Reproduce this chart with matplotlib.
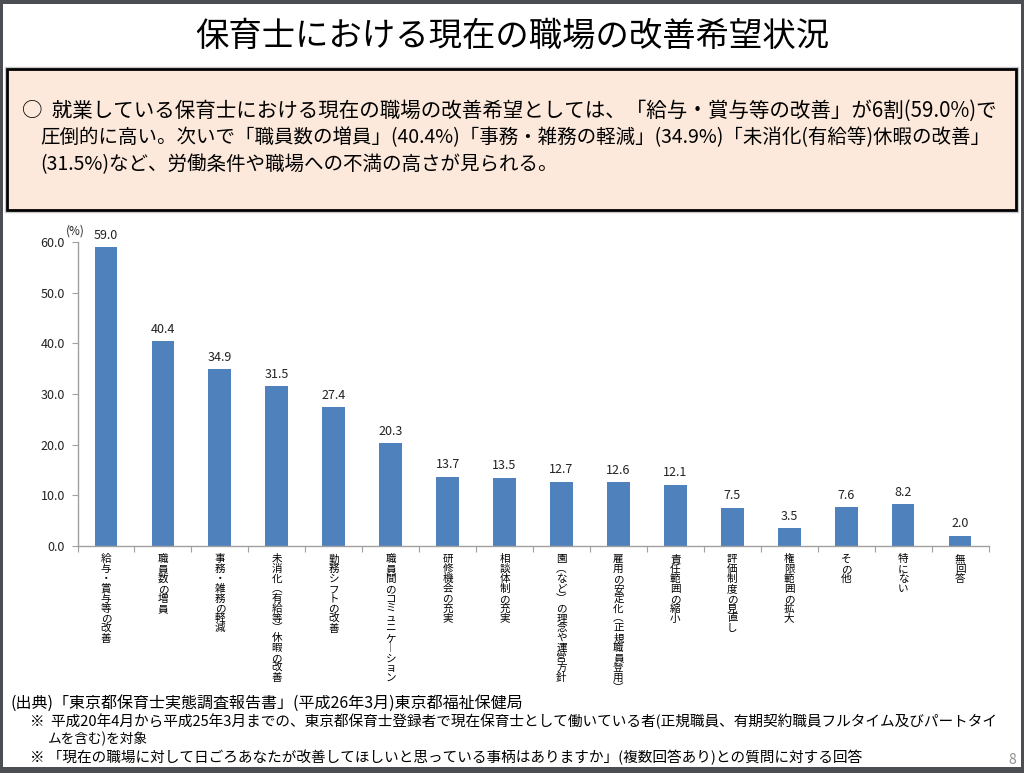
import matplotlib
matplotlib.use("Agg")
import matplotlib.pyplot as plt
from matplotlib.patches import Rectangle

plt.rcParams['font.family'] = ['Noto Sans CJK JP', 'DejaVu Sans']

categories = ["給与・賞与等の改善", "職員数の増員", "事務・雑務の軽減", "未消化（有給等）休暇の改善",
              "勤務シフトの改善", "職員間のコミュニケーション", "研修機会の充実", "相談体制の充実",
              "園（など）の理念や運営方針", "雇用の安定化（正規職員登用）", "責任範囲の縮小",
              "評価制度の見直し", "権限範囲の拡大", "その他", "特にない", "無回答"]
values = [59.0, 40.4, 34.9, 31.5, 27.4, 20.3, 13.7, 13.5, 12.7, 12.6, 12.1, 7.5, 3.5, 7.6, 8.2, 2.0]
yticks = [0.0, 10.0, 20.0, 30.0, 40.0, 50.0, 60.0]

title = "保育士における現在の職場の改善希望状況"
summary = ["○  就業している保育士における現在の職場の改善希望としては、「給与・賞与等の改善」が6割(59.0%)で",
           "圧倒的に高い。次いで「職員数の増員」(40.4%)「事務・雑務の軽減」(34.9%)「未消化(有給等)休暇の改善」",
           "(31.5%)など、労働条件や職場への不満の高さが見られる。"]
notes = ["(出典)「東京都保育士実態調査報告書」(平成26年3月)東京都福祉保健局",
         "※  平成20年4月から平成25年3月までの、東京都保育士登録者で現在保育士として働いている者(正規職員、有期契約職員フルタイム及びパートタイ",
         "ムを含む)を対象",
         "※ 「現在の職場に対して日ごろあなたが改善してほしいと思っている事柄はありますか」(複数回答あり)との質問に対する回答"]

W, H = 1024, 773
fig = plt.figure(figsize=(W / 100, H / 100), dpi=100)
fig.patch.set_facecolor('#4b4f53')
renderer = fig.canvas.get_renderer()

def fx(x):
    return x / W

def fy(y):
    return 1 - y / H

def fit_text(x0, x1, y, s, base, **kw):
    t = fig.text(fx(x0), fy(y), s, ha='left', va='center', fontsize=base, **kw)
    w = t.get_window_extent(renderer).width
    t.set_fontsize(base * (x1 - x0) / w)
    return t

# white slide area
fig.add_artist(Rectangle((fx(3), fy(767)), fx(1021) - fx(3), fy(4) - fy(767),
                         transform=fig.transFigure, facecolor='white', edgecolor='none', zorder=0))
# summary box shadow + box
fig.add_artist(Rectangle((fx(5), fy(212)), fx(1018) - fx(5), fy(67) - fy(212),
                         transform=fig.transFigure, facecolor='none', edgecolor='#c8c8c8',
                         linewidth=1, zorder=1))
fig.add_artist(Rectangle((fx(7), fy(210)), fx(1016) - fx(7), fy(69) - fy(210),
                         transform=fig.transFigure, facecolor='#fde9db', edgecolor='black',
                         linewidth=2, zorder=1))

fig.text(0.5, fy(36), title, ha='center', va='center', fontsize=24, color='black')

fit_text(22, 1000, 111, summary[0], 14, color='black')
fit_text(40, 990, 138, summary[1], 14, color='black')
fit_text(40, 560, 165, summary[2], 14, color='black')

# chart
ax = fig.add_axes([fx(77.5), fy(546), fx(988.5) - fx(77.5), fy(242) - fy(546)])
x = list(range(len(categories)))
ax.bar(x, values, width=0.4, color='#4f81bd', zorder=2)
ax.set_xlim(-0.5, len(categories) - 0.5)
ax.set_ylim(0, 60)
ax.set_yticks(yticks)
ax.set_yticklabels([f"{v:.1f}" for v in yticks], fontsize=9, color='#222222')
ax.set_xticks([i - 0.5 for i in range(len(categories) + 1)])
ax.set_xticklabels([])
ax.tick_params(axis='x', direction='out', length=4, color='#a0a0a0')
ax.tick_params(axis='y', direction='out', length=4, color='#a0a0a0', pad=5)
for s in ['top', 'right']:
    ax.spines[s].set_visible(False)
for s in ['left', 'bottom']:
    ax.spines[s].set_color('#a0a0a0')
    ax.spines[s].set_linewidth(1)
ax.patch.set_alpha(0)

for i, v in enumerate(values):
    ax.annotate(f"{v:.1f}", (i, v), xytext=(0, 4), textcoords='offset points',
                ha='center', va='bottom', fontsize=9, color='#222222')

vert_map = {"（": "︵", "）": "︶", "ー": "｜"}
for i, c in enumerate(categories):
    s = "\n".join(vert_map.get(ch, ch) for ch in c)
    ax.annotate(s, (i, 0), xytext=(0, -6), textcoords='offset points',
                xycoords=('data', 'axes fraction'),
                ha='center', va='top', fontsize=7.6, linespacing=0.98, color='black')

fig.text(fx(75), fy(231), "(%)", ha='center', va='center', fontsize=8.5, color='#222222')

fit_text(10, 522, 703, notes[0], 10, color='black')
fit_text(30, 1000, 721, notes[1], 10, color='black')
fit_text(48, 148, 739, notes[2], 10, color='black')
fit_text(30, 862, 757, notes[3], 10, color='black')
fig.text(fx(1016), fy(760), "8", ha='right', va='center', fontsize=10, color='#909090')

fig.savefig("out.png", dpi=100, facecolor=fig.get_facecolor())
